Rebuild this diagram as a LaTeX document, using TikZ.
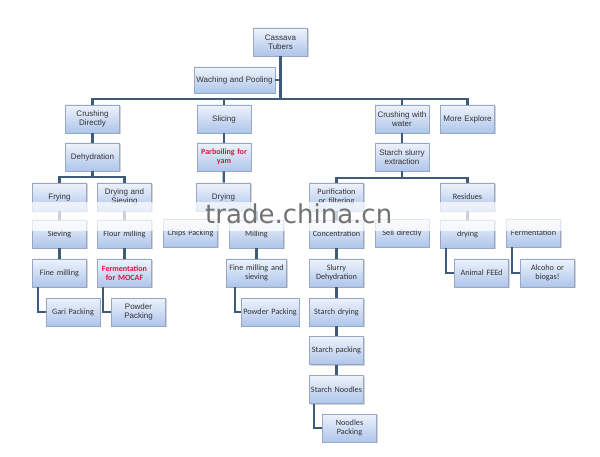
\documentclass[tikz,border=0pt]{standalone}
\usepackage{fontspec}
\setmainfont{Liberation Sans}
\newfontfamily\calfont{Carlito}
\newfontfamily\wmfont{DejaVu Sans}
\usetikzlibrary{shadows}
\definecolor{boxtop}{RGB}{238,243,251}
\definecolor{boxbot}{RGB}{174,197,235}
\definecolor{boxedge}{RGB}{150,168,195}
\definecolor{wirec}{RGB}{62,92,122}
\definecolor{redtxt}{RGB}{222,20,60}
\tikzset{
  box/.style={draw=boxedge, line width=0.6pt, top color=boxtop, bottom color=boxbot,
    minimum width=54pt, minimum height=28pt, inner sep=1pt, text width=52pt, align=center,
    font=\fontsize{8}{9}\selectfont, text=black!80,
    drop shadow={shadow xshift=1pt, shadow yshift=-1pt, opacity=0.35}},
  cbox/.style={box, font=\calfont\fontsize{8.2}{9.2}\selectfont},
  rbox/.style={box, font=\calfont\bfseries\fontsize{8}{9}\selectfont, text=redtxt},
  wire/.style={draw=wirec, line width=2.2pt},
}
\begin{document}
\begin{tikzpicture}[x=1pt,y=-1pt]
\useasboundingbox (0,0) rectangle (600,457);
% level 0
\node[box] (cas) at (280.5,42) {Cassava\\Tubers};
\node[box, minimum width=81pt, text width=79pt, minimum height=26pt] (wash) at (234.5,80) {Waching and Pooling};
% level 1
\node[box] (crd) at (92.5,119) {Crushing\\Directly};
\node[box] (sli) at (224,119) {Slicing};
\node[box] (crw) at (402,119) {Crushing with\\water};
\node[box] (more) at (467.5,119) {More Explore};
% level 2
\node[box] (deh) at (92.5,157) {Dehydration};
\node[rbox] (parb) at (224,157) {Parboiling for\\yam};
\node[box] (sse) at (402,157) {Starch slurry\\extraction};
% level 3
\node[box] (fry) at (59.5,197) {Frying};
\node[box] (dsv) at (124.5,197) {Drying and\\Sieving};
\node[box] (dry) at (223.5,197) {Drying};
\node[cbox] (puri) at (336.5,197) {Purification\\or filtering};
\node[cbox] (res) at (467.5,197) {Residues};
% level 4
\node[cbox] (siev) at (59.5,234) {Sieving};
\node[cbox] (flm) at (124.5,234) {Flour milling};
\node[cbox] (chips) at (190.5,233) {Chips Packing};
\node[cbox] (mill) at (256.5,234) {Milling};
\node[cbox] (conc) at (336.5,234) {Concentration};
\node[cbox] (sell) at (402,233) {Sell directly};
\node[cbox] (rdry) at (467.5,234) {drying};
\node[cbox] (ferm) at (533.5,233) {Fermentation};
% level 5
\node[cbox] (fine) at (59.5,273) {Fine milling};
\node[rbox] (moc) at (124.5,273) {Fermentation\\for MOCAF};
\node[cbox, text width=58pt] (fms) at (256.5,273) {Fine milling and\\sieving};
\node[cbox] (slurry) at (336.5,273) {Slurry\\Dehydration};
\node[cbox] (feed) at (481.5,273) {Animal FEEd};
\node[cbox] (alc) at (547.5,273) {Alcoho or\\biogas!};
% level 6
\node[cbox] (gari) at (73,312) {Gari Packing};
\node[box] (pp1) at (138.5,312) {Powder\\Packing};
\node[cbox, text width=56pt] (pp2) at (270,312) {Powder Packing};
\node[cbox] (sdry) at (336.5,312) {Starch drying};
\node[cbox] (spack) at (336.5,350.5) {Starch packing};
\node[cbox] (snood) at (336.5,389.5) {Starch Noodles};
\node[cbox] (npack) at (349.5,428) {Noodles\\Packing};
% bus coordinates
\coordinate (bus0) at (0,99);
\coordinate (bus1) at (0,177);
\coordinate (bus2) at (0,178);
% connectors
\draw[wire] (cas.south) -- (cas.south |- bus0);
\draw[wire] (wash.east) -- (wash.east -| cas.south);
\draw[wire] (crd.north) -- (crd.north |- bus0) -- (more.north |- bus0) -- (more.north);
\draw[wire] (sli.north) -- (sli.north |- bus0);
\draw[wire] (crw.north) -- (crw.north |- bus0);
\draw[wire] (crd) -- (deh);
\draw[wire] (sli) -- (parb);
\draw[wire] (crw) -- (sse);
\draw[wire] (deh.south) -- (deh.south |- bus1);
\draw[wire] (fry.north) -- (fry.north |- bus1) -- (dsv.north |- bus1) -- (dsv.north);
\draw[wire] (parb) -- (dry);
\draw[wire] (sse.south) -- (sse.south |- bus2);
\draw[wire] (puri.north) -- (puri.north |- bus2) -- (res.north |- bus2) -- (res.north);
\draw[wire] (fry) -- (siev);
\draw[wire] (dsv) -- (flm);
\draw[wire] (dry.south -| mill.north) -- (mill.north);
\draw[wire] (puri) -- (conc);
\draw[wire] (res) -- (rdry);
\draw[wire] (siev) -- (fine);
\draw[wire] (flm) -- (moc);
\draw[wire] (mill) -- (fms);
\draw[wire] (conc) -- (slurry);
\draw[wire] (slurry) -- (sdry);
\draw[wire] (sdry) -- (spack);
\draw[wire] (spack) -- (snood);
\draw[wire] ([xshift=-21.5pt]fine.south) |- (gari.west);
\draw[wire] ([xshift=-21.5pt]moc.south) |- (pp1.west);
\draw[wire] ([xshift=-21.5pt]fms.south) |- (pp2.west);
\draw[wire] ([xshift=-21.5pt]rdry.south) |- (feed.west);
\draw[wire] ([xshift=-21.5pt]ferm.south) |- (alc.west);
\draw[wire] ([xshift=-22.5pt]snood.south) |- (npack.west);
% blurred band and watermark
\fill[white, opacity=0.72] (28,202) rectangle (565,231);
\node[font=\wmfont\fontsize{26}{26}\selectfont, text=black!55, anchor=base west, inner sep=0pt] (wm) at (205,224) {trade.china.cn};
\end{tikzpicture}
\end{document}
